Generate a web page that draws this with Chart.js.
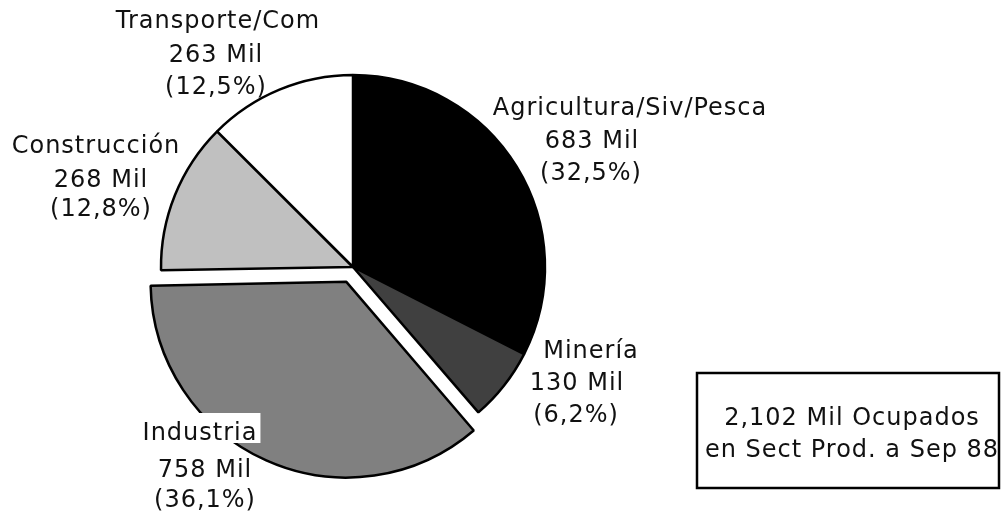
<!DOCTYPE html>
<html lang="es">
<head>
    <meta charset="UTF-8">
    <title>Ocupados en Sectores Productivos</title>
    <script src="https://cdn.jsdelivr.net/npm/chart.js"></script>
    <style>
        body {
            margin: 0;
            padding: 0;
            background: #fff;
        }
        #wrap {
            width: 1008px;
            height: 514px;
        }
    </style>
</head>
<body>

<div id="wrap">
    <canvas id="pieChart" width="1008" height="514"></canvas>
</div>

<script>
    // datos (miles de ocupados, Sep 88)
    const sectores = ['Agricultura/Siv/Pesca', 'Minería', 'Industria', 'Construcción', 'Transporte/Com'];
    const ocupados = [683, 130, 758, 268, 263];
    const porcentajes = ['32,5', '6,2', '36,1', '12,8', '12,5'];
    const colores = ['#000000', '#404040', '#808080', '#c0c0c0', '#ffffff'];
    const separado = [0, 0, 65, 0, 0];
    const totalTexto = ['2,102 Mil Ocupados', 'en Sect Prod. a Sep 88'];

    // posicion de cada linea de texto [x, y baseline]
    const labelPos = [
        [[630, 115], [592, 148], [591, 180]],
        [[591, 358], [577, 390], [576, 422]],
        [[200, 440], [205, 477], [205, 507]],
        [[96, 153], [101, 187], [101, 216]],
        [[218, 28], [216, 62], [216, 94]]
    ];

    const FONT = '24px "DejaVu Sans", Verdana, sans-serif';

    const labelsPlugin = {
        id: 'sectorLabels',
        afterDraw(chart) {
            const ctx = chart.ctx;
            ctx.save();
            ctx.font = FONT;
            ctx.letterSpacing = '1px';
            ctx.textAlign = 'center';
            ctx.textBaseline = 'alphabetic';

            sectores.forEach((name, i) => {
                const lines = [name, ocupados[i] + ' Mil', '(' + porcentajes[i] + '%)'];
                lines.forEach((txt, j) => {
                    const [x, y] = labelPos[i][j];
                    if (i === 2 && j === 0) {
                        // fondo blanco detras de "Industria"
                        const w = ctx.measureText(txt).width;
                        ctx.fillStyle = '#fff';
                        ctx.fillRect(x - w / 2 - 3, y - 27, w + 6, 30);
                    }
                    ctx.fillStyle = '#111';
                    ctx.fillText(txt, x, y);
                });
            });

            // cuadro con total
            ctx.lineWidth = 2.5;
            ctx.strokeStyle = '#000';
            ctx.strokeRect(697, 373, 302, 115);
            ctx.fillStyle = '#111';
            ctx.fillText(totalTexto[0], 852, 425);
            ctx.fillText(totalTexto[1], 852, 457);
            ctx.restore();
        }
    };

    const ctx = document.getElementById('pieChart').getContext('2d');
    new Chart(ctx, {
        type: 'pie',
        data: {
            labels: sectores,
            datasets: [{
                data: ocupados,
                backgroundColor: colores,
                borderColor: '#000',
                borderWidth: 2.5,
                offset: separado,
                radius: 192
            }]
        },
        options: {
            responsive: false,
            animation: false,
            layout: {
                padding: { left: 0, right: 302, top: 20, bottom: 0 }
            },
            plugins: {
                legend: { display: false },
                tooltip: { enabled: false }
            }
        },
        plugins: [labelsPlugin]
    });
</script>

</body>
</html>
